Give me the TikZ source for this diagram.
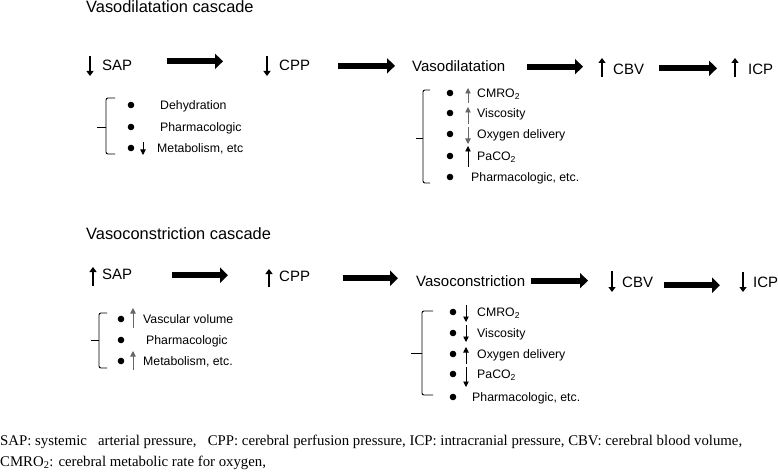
\documentclass[tikz,border=0pt]{standalone}
\usepackage{fontspec}
\setmainfont{Liberation Sans}
\newfontfamily\notefont{Liberation Serif}
\usetikzlibrary{arrows.meta}
\tikzset{
	lbl/.style={inner sep=0pt, anchor=base west, font=\fontsize{15}{18}\selectfont},
	ttl/.style={inner sep=0pt, anchor=base west, font=\fontsize{16.4}{20}\selectfont},
	itm/.style={inner sep=0pt, anchor=base west, font=\fontsize{12.3}{15}\selectfont},
	note/.style={inner sep=0pt, anchor=base west, font=\notefont\fontsize{14.8}{17}\selectfont},
	bigarr/.style={line width=6pt, -{Triangle[length=8pt,width=15pt]}},
	varr/.style={line width=2.8pt, -{Triangle[length=5pt,width=7pt]}},
	sarr/.style={line width=0.9pt, -{Triangle[length=5.5pt,width=5.5pt]}},
	brk/.style={line width=0.9pt, rounded corners=2pt},
	dot/.style={fill=black}
}

\begin{document}
\begin{tikzpicture}[x=1pt, y=-1pt]
		%%%%% START %%%%%
		\useasboundingbox (0,0) rectangle (778,473);
		
		% vasodilatation
		\node[ttl] (titleA) at (86,13) {Vasodilatation cascade};
		
		\node[lbl] (sapA) at (102,71) {SAP};
		\node[lbl] (cppA) at (279,71) {CPP};
		\node[lbl] (vdA) at (412,72) {Vasodilatation};
		\node[lbl] (cbvA) at (613,75) {CBV};
		\node[lbl] (icpA) at (748,75) {ICP};
		
		\draw[varr] (90,56) -- (90,76);
		\draw[varr] (267,56) -- (267,76);
		\draw[varr] (602,77) -- (602,58);
		\draw[varr] (735,77) -- (735,58);
		
		\draw[bigarr, shorten <=35pt, shorten >=56pt] ([yshift=4.5pt]sapA.east) -- ([yshift=4.5pt]sapA.east -| cppA.west);
		\draw[bigarr, shorten <=28pt, shorten >=17pt] (cppA.east) -- (cppA.east -| vdA.west);
		\draw[bigarr, shorten <=21pt, shorten >=30pt] (vdA.east) -- (vdA.east -| cbvA.west);
		\draw[bigarr, shorten <=15pt, shorten >=31pt] ([yshift=1.5pt]cbvA.east) -- ([yshift=1.5pt]cbvA.east -| icpA.west);
		
		\draw[brk] (115,98) -- (106,98) -- (106,154) -- (115,154);
		\draw[brk] (106,127) -- (97,127);
		\fill[dot] (131,105) circle (3.3pt);
		\fill[dot] (131,127) circle (3.3pt);
		\fill[dot] (131,148) circle (3.3pt);
		\node[itm] (dehyA) at (160,109.5) {Dehydration};
		\node[itm] (pharmA) at (160,131.5) {Pharmacologic};
		\node[itm] (metaA) at (157,152.5) {Metabolism, etc};
		\draw[sarr] (143,142) -- (143,155);
		
		\draw[brk] (430,90) -- (423,90) -- (423,183) -- (430,183);
		\draw[brk] (423,138) -- (416,138);
		\fill[dot] (450,93) circle (3.3pt);
		\fill[dot] (450,113) circle (3.3pt);
		\fill[dot] (450,134) circle (3.3pt);
		\fill[dot] (450,156) circle (3.3pt);
		\fill[dot] (450,177) circle (3.3pt);
		\node[itm] (cmroA) at (477,97.5) {CMRO\textsubscript{2}};
		\node[itm] (viscA) at (477,117.5) {Viscosity};
		\node[itm] (oxyA) at (477,138.5) {Oxygen delivery};
		\node[itm] (pacoA) at (477,160.5) {PaCO\textsubscript{2}};
		\node[itm] (pharmB) at (471,181.5) {Pharmacologic, etc.};
		\draw[sarr, color=black!60] (468,103) -- (468,88);
		\draw[sarr, color=black!60] (468,124) -- (468,107);
		\draw[sarr, color=black!60] (468,127) -- (468,144);
		\draw[sarr] (468,167) -- (468,146);
		
		% vasoconstriction
		\node[ttl] (titleB) at (86,239) {Vasoconstriction cascade};
		
		\node[lbl] (sapB) at (102,279) {SAP};
		\node[lbl] (cppB) at (279,281) {CPP};
		\node[lbl] (vcB) at (416,286) {Vasoconstriction};
		\node[lbl] (cbvB) at (622,287) {CBV};
		\node[lbl] (icpB) at (753,287) {ICP};
		
		\draw[varr] (93,286) -- (93,267);
		\draw[varr] (269,287) -- (269,269);
		\draw[varr] (612,271) -- (612,292);
		\draw[varr] (743,272) -- (743,292);
		
		\draw[bigarr, shorten <=40pt, shorten >=51pt] ([yshift=-1.4pt]sapB.east) -- ([yshift=-1.4pt]sapB.east -| cppB.west);
		\draw[bigarr, shorten <=33pt, shorten >=18pt] ([yshift=-2.4pt]cppB.east) -- ([yshift=-2.4pt]cppB.east -| vcB.west);
		\draw[bigarr, shorten <=6pt, shorten >=34pt] (vcB.east) -- (vcB.east -| cbvB.west);
		\draw[bigarr, shorten <=11pt, shorten >=33pt] ([yshift=-3.4pt]cbvB.east) -- ([yshift=-3.4pt]cbvB.east -| icpB.west);
		
		\draw[brk] (107,313) -- (99,313) -- (99,368) -- (107,368);
		\draw[brk] (99,340) -- (91,340);
		\fill[dot] (121,319) circle (3.3pt);
		\fill[dot] (121,340) circle (3.3pt);
		\fill[dot] (121,361) circle (3.3pt);
		\node[itm] (vascC) at (143,323.5) {Vascular volume};
		\node[itm] (pharmC) at (146,344.5) {Pharmacologic};
		\node[itm] (metaC) at (143,365.5) {Metabolism, etc.};
		\draw[sarr, color=black!60] (133,328) -- (133,308);
		\draw[sarr, color=black!60] (133,370) -- (133,351);
		
		\draw[brk] (433,311) -- (422,311) -- (422,395) -- (433,395);
		\draw[brk] (422,353) -- (411,353);
		\fill[dot] (453,312) circle (3.3pt);
		\fill[dot] (453,333) circle (3.3pt);
		\fill[dot] (453,354) circle (3.3pt);
		\fill[dot] (453,374) circle (3.3pt);
		\fill[dot] (453,397) circle (3.3pt);
		\node[itm] (cmroD) at (477,316.5) {CMRO\textsubscript{2}};
		\node[itm] (viscD) at (477,337.5) {Viscosity};
		\node[itm] (oxyD) at (477,358.5) {Oxygen delivery};
		\node[itm] (pacoD) at (477,378.5) {PaCO\textsubscript{2}};
		\node[itm] (pharmD) at (472,401.5) {Pharmacologic, etc.};
		\draw[sarr] (466,305) -- (466,322);
		\draw[sarr] (466,325) -- (466,342);
		\draw[sarr] (466,364) -- (466,347);
		\draw[sarr] (466,367) -- (466,387);
		
		% abbreviations
		\node[note] (noteA) at (0,445) {SAP: systemic\ \ \ arterial pressure,\ \ \ CPP: cerebral perfusion pressure, ICP: intracranial pressure, CBV: cerebral blood volume,};
		\node[note] (noteB) at (0,466) {CMRO\textsubscript{2}: cerebral metabolic rate for oxygen,};
		
		%%%%% END %%%%%
\end{tikzpicture}
\end{document}
